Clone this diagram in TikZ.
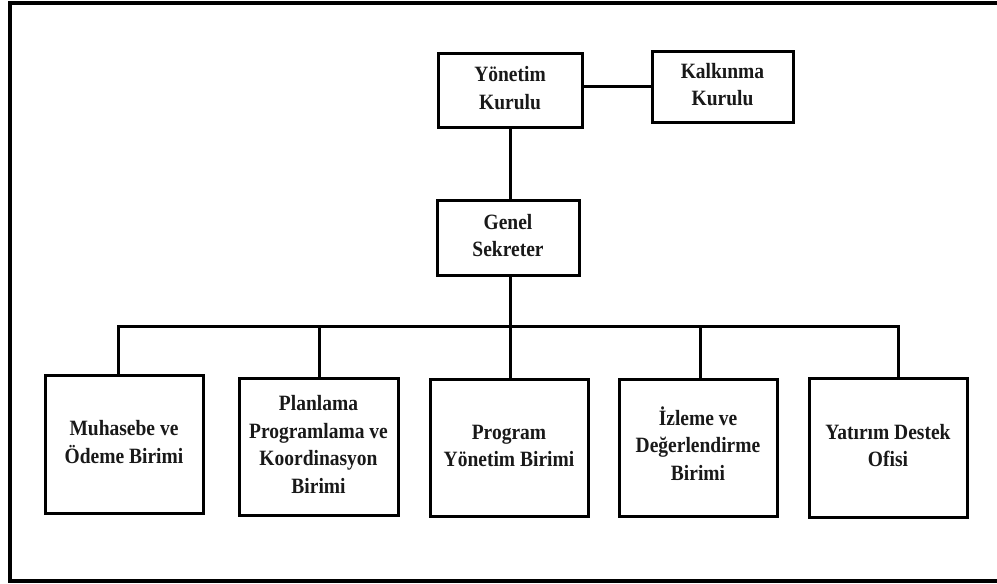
\documentclass[tikz,border=0pt]{standalone}
\usepackage{fontspec}
\setmainfont{Liberation Serif}
\usepackage{graphicx}
\newcommand{\boxtext}[1]{\scalebox{1}[1.12]{\begin{tabular}{@{}c@{}}#1\end{tabular}}}
\begin{document}
\begin{tikzpicture}[x=1pt,y=-1pt,
  orgbox/.style={draw=black, line width=3pt, fill=white, inner sep=0pt,
    font=\fontsize{19.5}{24.5}\selectfont\bfseries, text=black!90},
  link/.style={draw=black, line width=3pt}]
\useasboundingbox (0,0) rectangle (997,584);
\begin{scope}
  \clip (0,0) rectangle (997,584);
  \draw[line width=4pt] (10,3) rectangle (1010,581);
\end{scope}
% top level
\node[orgbox, minimum width=144pt, minimum height=74pt] (yk) at (510,90) {\boxtext{Yönetim\\Kurulu}};
\node[orgbox, minimum width=141pt, minimum height=71pt] (kk) at (722.5,86.5) {\boxtext{Kalkınma\\Kurulu}};
\node[orgbox, minimum width=142pt, minimum height=75pt] (gs) at (508,237.5) {\boxtext{Genel\\Sekreter}};
% units
\node[orgbox, minimum width=158pt, minimum height=138pt] (mu) at (124,444) {\boxtext{Muhasebe ve\\Ödeme Birimi}};
\node[orgbox, minimum width=159pt, minimum height=137pt] (pl) at (318.5,446.5) {\boxtext{Planlama\\Programlama ve\\Koordinasyon\\Birimi}};
\node[orgbox, minimum width=158pt, minimum height=137pt] (pr) at (509,447.5) {\boxtext{Program\\Yönetim Birimi}};
\node[orgbox, minimum width=158pt, minimum height=137pt] (iz) at (698,447.5) {\boxtext{İzleme ve\\Değerlendirme\\Birimi}};
\node[orgbox, minimum width=158pt, minimum height=139pt] (ya) at (888,447.5) {\boxtext{Yatırım Destek\\Ofisi}};
% bus coordinates
\coordinate (busL) at (118,326);
\coordinate (busR) at (898,326);
\coordinate (busM) at (510,326);
% connectors
\draw[link] (yk.east |- kk.west) -- (kk.west);
\draw[link] (busM |- yk.south) -- (busM |- gs.north);
\draw[link] (busM |- gs.south) -- (busM);
\draw[link] (busL |- mu.north) -- (busL) -- (busR) -- (busR |- ya.north);
\draw[link] (319,326) -- (319,0 |- pl.north);
\draw[link] (busM) -- (busM |- pr.north);
\draw[link] (700,326) -- (700,0 |- iz.north);
\end{tikzpicture}
\end{document}
